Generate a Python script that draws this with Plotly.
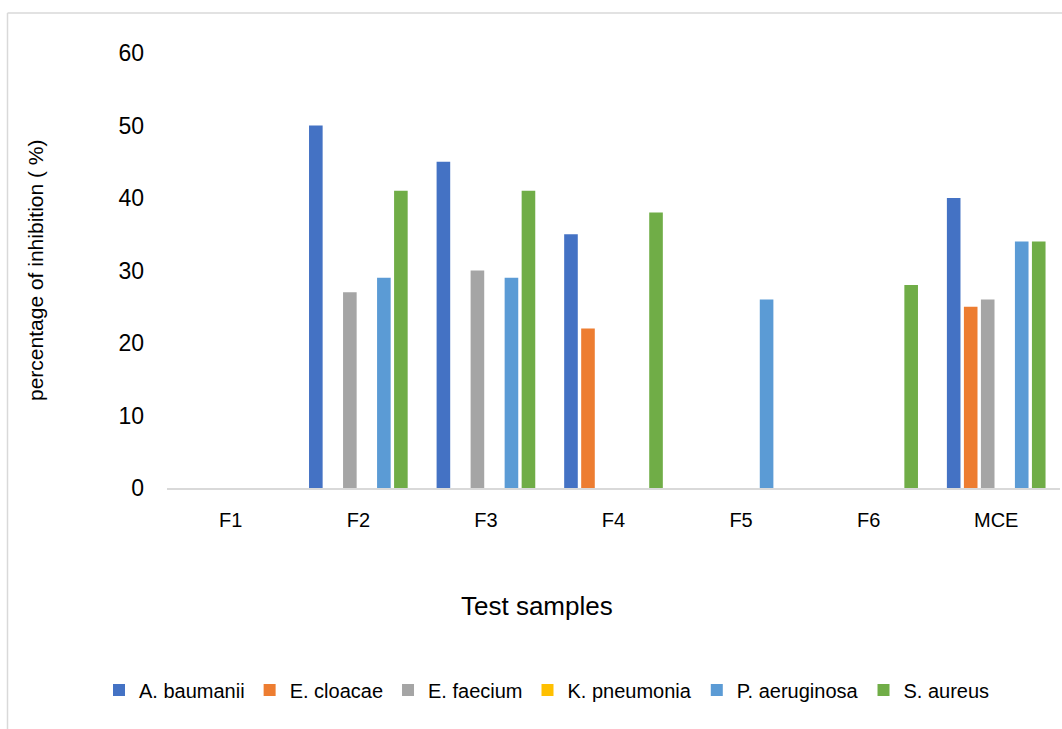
import plotly.graph_objects as go

# Test samples and inhibition results (%) per organism
samples = ["F1", "F2", "F3", "F4", "F5", "F6", "MCE"]
a_baumanii = [0, 50, 45, 35, 0, 0, 40]
e_cloacae = [0, 0, 0, 22, 0, 0, 25]
e_faecium = [0, 27, 30, 0, 0, 0, 26]
k_pneumonia = [0, 0, 0, 0, 0, 0, 0]
p_aeruginosa = [0, 29, 29, 0, 26, 0, 34]
s_aureus = [0, 41, 41, 38, 0, 28, 34]

series = [
    ("A. baumanii", a_baumanii, "#4472C4"),
    ("E. cloacae", e_cloacae, "#ED7D31"),
    ("E. faecium", e_faecium, "#A5A5A5"),
    ("K. pneumonia", k_pneumonia, "#FFC000"),
    ("P. aeruginosa", p_aeruginosa, "#5B9BD5"),
    ("S. aureus", s_aureus, "#70AD47"),
]

W, H = 1062, 729
L, R, T, B = 167, 2, 53, 241
pw, ph = W - L - R, H - T - B


def px_x(x):
    return (x - L) / pw


def px_y(y):
    return (H - B - y) / ph


fig = go.Figure()
for name, vals, color in series:
    fig.add_trace(go.Bar(
        name=name, x=samples, y=vals,
        marker=dict(color=color, line=dict(width=0)),
    ))

fig.update_layout(
    width=W, height=H,
    margin=dict(l=L, r=R, t=T, b=B),
    paper_bgcolor="white", plot_bgcolor="white",
    barmode="group", bargap=0.2, bargroupgap=0.2,
    font=dict(family="Liberation Sans, Arial, sans-serif", color="#000000"),
    showlegend=True,
    legend=dict(
        orientation="h", x=px_x(547), xanchor="center", y=px_y(690), yanchor="middle",
        font=dict(family="Liberation Sans, Arial, sans-serif", size=20, color="#000000"),
        itemwidth=30, traceorder="normal",
    ),
    xaxis=dict(
        showline=True, linecolor="#D9D9D9", linewidth=2,
        ticks="", tickfont=dict(size=20), ticklabelstandoff=13,
        showgrid=False, zeroline=False,
    ),
    yaxis=dict(
        range=[0, 60], dtick=10, showgrid=False, zeroline=False,
        showline=False, ticks="", tickfont=dict(size=23), ticklabelstandoff=22,
    ),
    annotations=[
        dict(text="percentage of inhibition ( %)", xref="paper", yref="paper",
             x=px_x(35), y=px_y(270), xanchor="center", yanchor="middle",
             textangle=-90, showarrow=False, font=dict(size=21)),
        dict(text="Test samples", xref="paper", yref="paper",
             x=px_x(537), y=px_y(606), xanchor="center", yanchor="middle",
             showarrow=False, font=dict(size=26)),
    ],
    shapes=[
        dict(type="line", xref="paper", yref="paper",
             x0=px_x(7.5), x1=px_x(7.5), y0=px_y(13), y1=px_y(740),
             line=dict(color="#D9D9D9", width=1.5)),
        dict(type="line", xref="paper", yref="paper",
             x0=px_x(7.5), x1=px_x(1070), y0=px_y(13), y1=px_y(13),
             line=dict(color="#D9D9D9", width=1.5)),
    ],
)

fig.write_html("out.html")
